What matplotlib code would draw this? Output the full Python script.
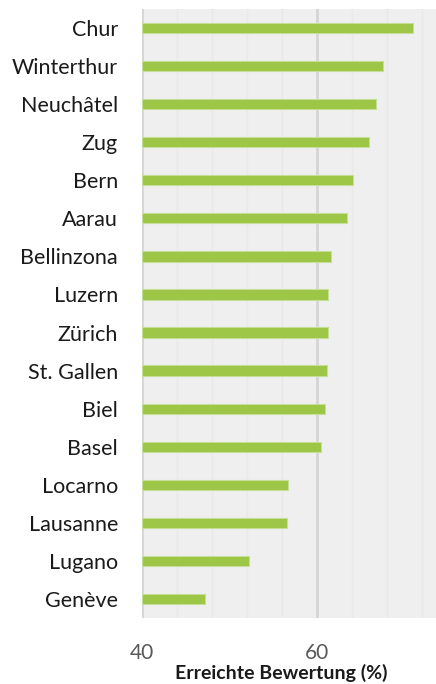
import matplotlib
matplotlib.use("Agg")
import matplotlib.pyplot as plt
from matplotlib.ticker import MultipleLocator

cities = ["Chur", "Winterthur", "Neuchâtel", "Zug", "Bern", "Aarau", "Bellinzona",
          "Luzern", "Zürich", "St. Gallen", "Biel", "Basel", "Locarno", "Lausanne",
          "Lugano", "Genève"]
values = [71.0, 67.5, 66.7, 66.0, 64.1, 63.4, 61.6, 61.3, 61.3, 61.2, 60.9, 60.5,
          56.7, 56.6, 52.3, 47.3]
xticks = [40, 60]
xlabel = "Erreichte Bewertung (%)"

plt.rcParams['font.family'] = ['Lato', 'DejaVu Sans']

fig = plt.figure(figsize=(4.36, 6.84), dpi=100)
ax = fig.add_axes([141.5/436, 1-618/684, 1-141.5/436, (618-9)/684])
ax.set_facecolor("#efefef")

y = list(range(len(cities)))
ax.barh(y, [v - 40 for v in values], left=40, height=0.27, color="#9dc546",
        edgecolor="#c6df98", linewidth=0.8, zorder=3)

ax.set_xlim(40, 73.6)
ax.set_ylim(len(cities) - 0.5, -0.5)
ax.set_yticks(y)
ax.set_yticklabels(cities, fontsize=15.5, color="#1a1a1a")
ax.set_xticks(xticks)
ax.set_xticklabels([str(t) for t in xticks], fontsize=15, color="#595959")
ax.xaxis.set_minor_locator(MultipleLocator(4))
ax.grid(axis="x", which="major", color="#d6d6d6", linewidth=2, zorder=1)
ax.grid(axis="x", which="minor", color="#e9e9e9", linewidth=1, zorder=0)
ax.tick_params(axis="both", which="both", length=0)
ax.tick_params(axis="y", pad=17)
ax.tick_params(axis="x", pad=18)
for s in ax.spines.values():
    s.set_visible(False)
ax.set_xlabel(xlabel, fontsize=14, fontweight="bold", color="#1a1a1a")
ax.xaxis.set_label_coords((281 - 141.5) / (436 - 141.5), -(673 - 618) / (618 - 9), transform=ax.transAxes)
ax.xaxis.label.set_va("center")

fig.savefig("out.png", dpi=100)
